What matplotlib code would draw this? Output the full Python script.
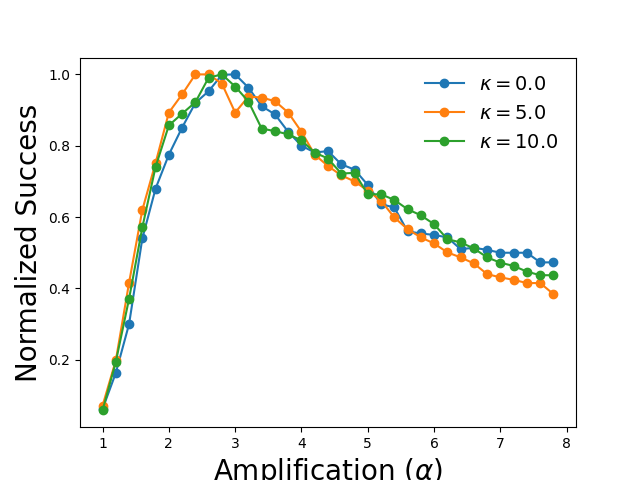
import numpy as np
import matplotlib
matplotlib.use("Agg")
import matplotlib.pyplot as plt

alpha = np.arange(1.0, 7.81, 0.2)
kappas = [0.0, 5.0, 10.0]

succ_k0 = [0.062, 0.163, 0.30, 0.54, 0.68, 0.775, 0.851, 0.92, 0.953, 0.999,
           1.0, 0.963, 0.911, 0.888, 0.839, 0.80, 0.781, 0.785, 0.748, 0.733,
           0.69, 0.636, 0.627, 0.56, 0.554, 0.55, 0.543, 0.51, 0.514, 0.508,
           0.50, 0.50, 0.50, 0.473, 0.473]
succ_k5 = [0.071, 0.198, 0.416, 0.62, 0.752, 0.893, 0.944, 1.0, 1.0, 0.974,
           0.893, 0.938, 0.935, 0.925, 0.893, 0.839, 0.775, 0.743, 0.717, 0.70,
           0.674, 0.646, 0.599, 0.566, 0.543, 0.526, 0.501, 0.487, 0.47, 0.44,
           0.431, 0.424, 0.415, 0.415, 0.384]
succ_k10 = [0.058, 0.194, 0.371, 0.571, 0.741, 0.857, 0.89, 0.922, 0.991, 1.0,
            0.966, 0.924, 0.848, 0.841, 0.832, 0.815, 0.781, 0.764, 0.722, 0.724,
            0.664, 0.664, 0.648, 0.622, 0.605, 0.58, 0.538, 0.529, 0.512, 0.487,
            0.472, 0.463, 0.447, 0.437, 0.437]

fig = plt.figure(figsize=(6.4, 4.8), dpi=100)
ax = fig.add_subplot(111)

for k, s in zip(kappas, [succ_k0, succ_k5, succ_k10]):
    ax.plot(alpha, s, 'o-', label=r'$\kappa=%.1f$' % k)

ax.set_xlabel(r'Amplification ($\alpha$)', fontsize=20)
ax.set_ylabel('Normalized Success', fontsize=20)
ax.legend(frameon=False, fontsize=14)

fig.savefig('out.png')
